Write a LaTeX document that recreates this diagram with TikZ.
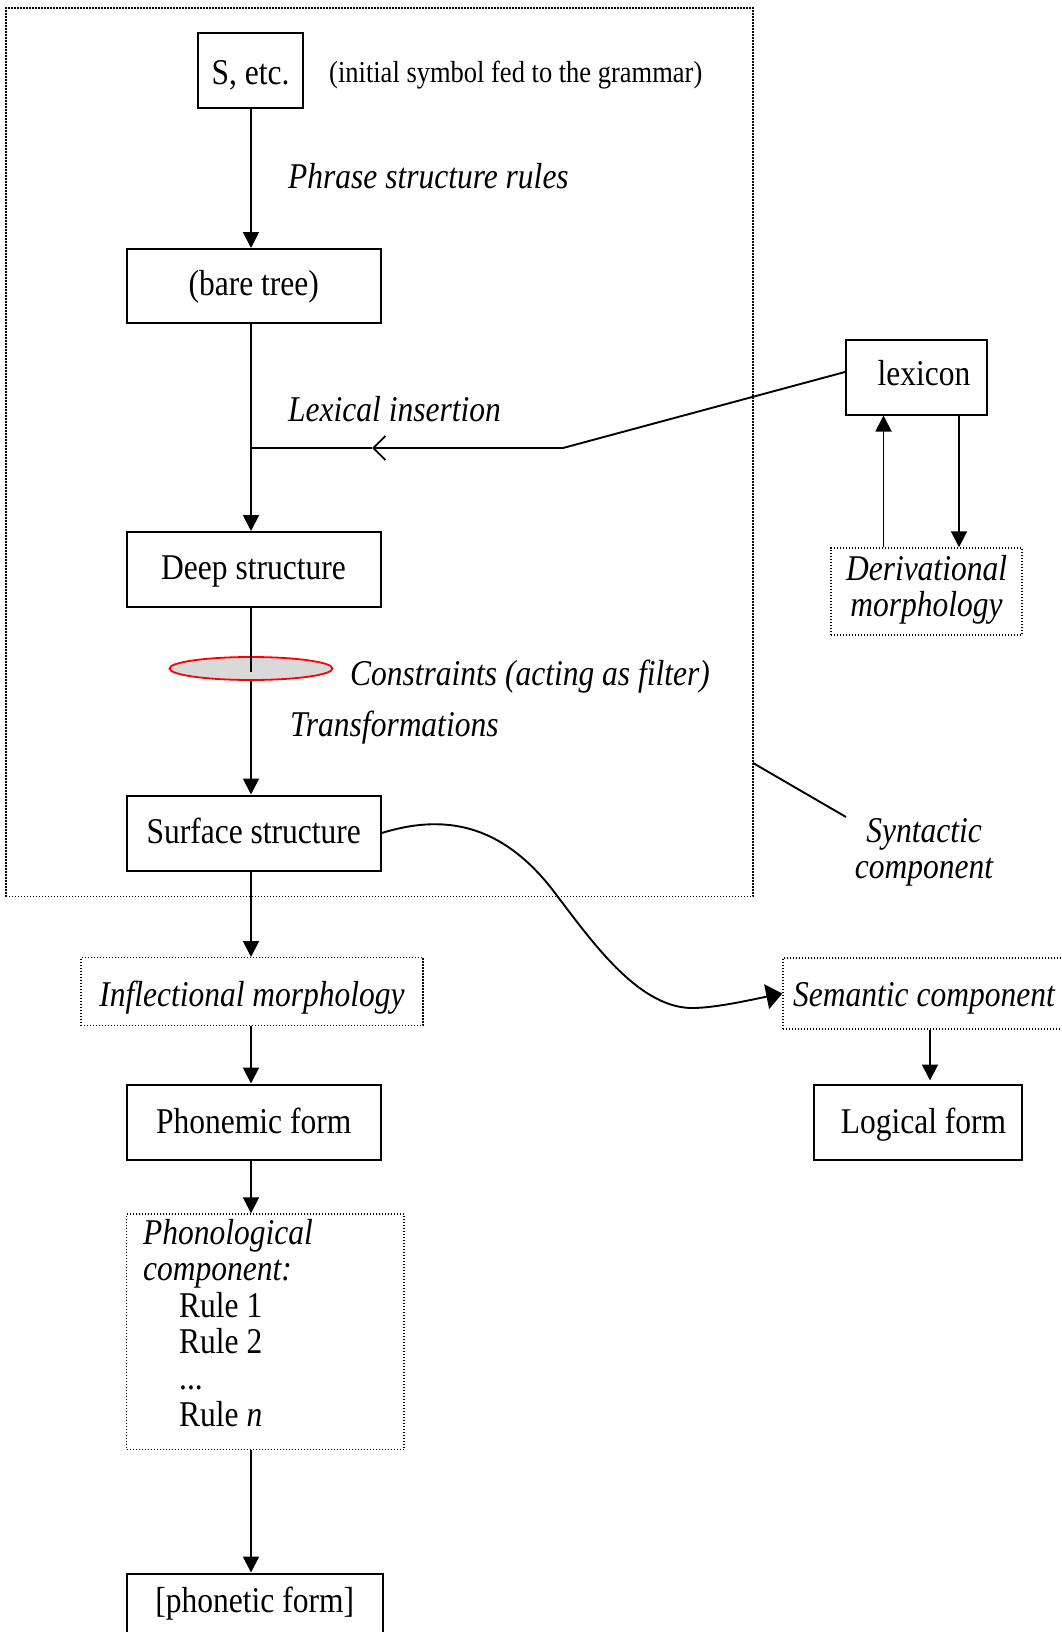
\documentclass[tikz,border=0pt]{standalone}
\usepackage{fontspec}
\setmainfont{Liberation Serif}
\usepackage{graphicx}
\usetikzlibrary{arrows.meta,shapes.geometric}
\newcommand\vst[1]{\scalebox{1}[1.15]{#1}}
\begin{document}
\begin{tikzpicture}[x=1pt,y=-1pt,
  box/.style={draw, line width=2pt, inner sep=0pt, minimum height=75pt, text height=30pt, text depth=10pt, font=\fontsize{31.5}{31.3}\selectfont},
  dbox/.style={draw, line width=1.4pt, dash pattern=on 1.4pt off 1.6pt, inner sep=0pt},
  lbl/.style={inner sep=0pt, font=\fontsize{31.5}{31.3}\selectfont\itshape},
  note/.style={inner sep=0pt, font=\fontsize{26.5}{26.5}\selectfont},
  ln/.style={line width=1.9pt},
  arr/.style={line width=1.9pt, -{Triangle[length=16pt,width=16pt]}}]
\clip (0,0) rectangle (1061,1632);
\fill[white] (0,0) rectangle (1061,1632);

\coordinate (ax) at (251,0);
\coordinate (lxa) at (883.5,0);
\coordinate (lxb) at (959,0);
\coordinate (rx) at (930,0);

% syntactic component frame
\node[dbox, minimum width=747pt, minimum height=888.5pt] (synbox) at (379.5,452.25) {};

% main column
\node[box, minimum width=105pt, text height=34pt, text depth=6pt] (S) at (250.5,70.5) {\vst{S, etc.}};
\node[note, anchor=base west] (notet) at (329,82.6) {\vst{(initial symbol fed to the grammar)}};
\node[lbl, anchor=base west] (psr) at (288,188.5) {\vst{Phrase structure rules}};
\node[box, minimum width=254pt, minimum height=74pt, text height=29pt, text depth=11pt] (bare) at (253.75,286) {\vst{(bare tree)}};
\node[lbl, anchor=base west] (li) at (288,421) {\vst{Lexical insertion}};
\node[box, minimum width=254pt] (deep) at (253.5,569.5) {\vst{Deep structure}};
\node[ellipse, draw=red, line width=1.8pt, fill=black!15, minimum width=163pt, minimum height=23pt, inner sep=0pt] (filt) at (251,668.5) {};
\node[lbl, anchor=base west] (constr) at (350,685) {\vst{Constraints (acting as filter)}};
\node[lbl, anchor=base west] (transf) at (290,736.5) {\vst{Transformations}};
\node[box, minimum width=254pt] (surface) at (253.75,833) {\vst{Surface structure}};
\node[dbox, minimum width=342pt, minimum height=68pt] (infl) at (252,991.7) {};
\node[lbl, anchor=base] (inflt) at (252,1006.5) {\vst{Inflectional morphology}};
\node[box, minimum width=254.5pt, text height=31pt, text depth=9pt] (phonemic) at (253.75,1122) {\vst{Phonemic form}};
\node[dbox, minimum width=277.5pt, minimum height=235.4pt] (phon) at (265.25,1331.7) {};
\node[lbl, anchor=base west, font=\fontsize{31.5}{31.6}\selectfont\itshape] (phont) at (143,1244.5)
  {\vst{\begin{tabular}[t]{@{}l@{}}Phonological\\component:\\\upshape\hspace*{36pt}Rule 1\\\upshape\hspace*{36pt}Rule 2\\\upshape\hspace*{36pt}...\\\upshape\hspace*{36pt}Rule \textit{n}\end{tabular}}};
\node[box, minimum width=256.5pt, minimum height=60pt, text height=29pt, text depth=11pt] (phonetic) at (254.75,1603.5) {\vst{[phonetic form]}};

% right column
\node[box, minimum width=141pt, text height=28.3pt, text depth=12pt] (lex) at (916.5,377) {\vst{\hspace*{15pt}lexicon}};
\node[dbox, minimum width=191pt, minimum height=87pt, font=\fontsize{31.5}{31.3}\selectfont\itshape] (deriv) at (926.5,591.5)
  {\vst{\begin{tabular}{@{}c@{}}Derivational\\morphology\end{tabular}}};
\node[lbl] (synlbl) at (924,853) {\vst{\begin{tabular}{@{}c@{}}Syntactic\\component\end{tabular}}};
\node[dbox, minimum width=300pt, minimum height=71pt] (sem) at (933,993.5) {};
\node[lbl, anchor=base] (semt) at (924,1006.5) {\vst{Semantic component}};
\node[box, minimum width=207.5pt, text height=31pt, text depth=9pt] (logic) at (918,1122) {\vst{\hspace*{11pt}Logical form}};

% connectors
\draw[arr] (S.south -| ax) -- (bare.north -| ax);
\draw[arr] (bare.south -| ax) -- (deep.north -| ax);
\draw[ln] (deep.south -| ax) -- ([yshift=-3pt]filt.center);
\draw[arr] (filt.south -| ax) -- (surface.north -| ax);
\draw[arr] (surface.south -| ax) -- (infl.north -| ax);
\draw[arr] (infl.south -| ax) -- (phonemic.north -| ax);
\draw[arr] (phonemic.south -| ax) -- (phon.north -| ax);
\draw[arr] (phon.south -| ax) -- (phonetic.north -| ax);

\coordinate (bend) at (563,448);
\coordinate (tipL) at (372,448);
\coordinate (junc) at (251,448);
\draw[ln, -{Straight Barb[length=12pt,width=24pt]}] ([yshift=5pt]lex.west) -- (bend) -- (tipL);
\draw[ln] (tipL) -- (junc);

\draw[arr] (deriv.north -| lxa) -- (lex.south -| lxa);
\draw[arr] (lex.south -| lxb) -- (deriv.north -| lxb);

\coordinate (synA) at (753,763);
\coordinate (synB) at (846,817);
\draw[ln] (synA) -- (synB);

\draw[ln, -{Triangle[length=16pt,width=25pt]}] (surface.east) .. controls (440,815) and (500,820) .. (555,893)
  .. controls (593,943) and (640,1010) .. (695,1008) .. controls (720,1007) and (750,1000) .. (sem.west);
\draw[arr, shorten >=3pt] (sem.south -| rx) -- (logic.north -| rx);
\end{tikzpicture}
\end{document}
